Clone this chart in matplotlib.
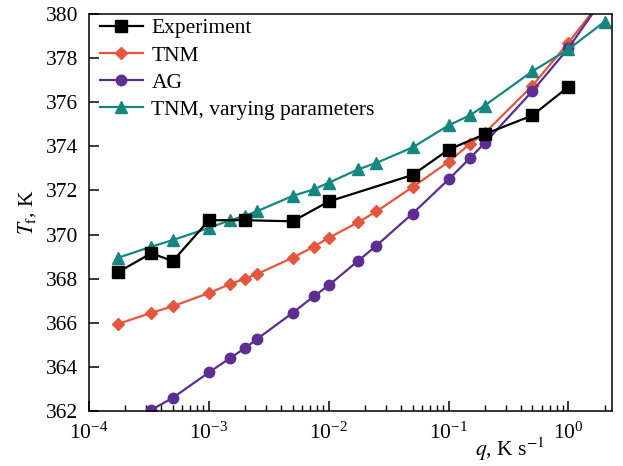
import matplotlib
matplotlib.use("Agg")
import matplotlib.pyplot as plt
from matplotlib.ticker import LogLocator, NullFormatter

# cooling rate q, K/s and fictive temperature Tf, K
q_exp = [1.75e-4, 3.3e-4, 5e-4, 1e-3, 2e-3, 5e-3, 1e-2, 5e-2, 1e-1, 2e-1, 5e-1, 1.0]
T_exp = [368.3, 369.15, 368.8, 370.65, 370.65, 370.6, 371.5, 372.7, 373.85, 374.55, 375.4, 376.7]

q_mod = [1.75e-4, 3.3e-4, 5e-4, 1e-3, 1.5e-3, 2e-3, 2.5e-3, 5e-3, 7.5e-3, 1e-2,
         1.75e-2, 2.5e-2, 5e-2, 1e-1, 1.5e-1, 2e-1, 5e-1, 1.0, 2.0]
T_tnm = [365.95, 366.45, 366.75, 367.35, 367.75, 368.0, 368.2, 368.95, 369.45, 369.85,
         370.55, 371.05, 372.15, 373.3, 374.1, 374.6, 376.75, 378.7, 380.8]
T_ag = [361.2, 362.05, 362.6, 363.75, 364.4, 364.85, 365.25, 366.45, 367.2, 367.7,
        368.8, 369.5, 370.95, 372.5, 373.45, 374.15, 376.5, 378.45, 380.8]
T_var = [368.95, 369.45, 369.75, 370.3, 370.65, 370.85, 371.05, 371.75, 372.05, 372.35,
         372.95, 373.25, 373.95, 374.95, 375.4, 375.85, 377.4, 378.4, 379.65]

plt.rcParams["font.family"] = ["Liberation Serif", "DejaVu Serif"]
plt.rcParams["mathtext.fontset"] = "stix"

fig = plt.figure(figsize=(6.23, 4.66), dpi=100)
ax = fig.add_axes([0.143, 0.118, 0.839, 0.852])

ax.plot(q_exp, T_exp, color="black", marker="s", ms=8, lw=1.6, label="Experiment", zorder=5)
ax.plot(q_mod, T_tnm, color="#E4573D", marker="D", ms=6.5, lw=1.6, label="TNM")
ax.plot(q_mod, T_ag, color="#5C2E91", marker="o", ms=7.5, lw=1.6, label="AG")
ax.plot(q_mod, T_var, color="#15877F", marker="^", ms=9, lw=1.6,
        label="TNM, varying parameters")

ax.set_xscale("log")
ax.set_xlim(1e-4, 2.3)
ax.set_ylim(362, 380)
ax.set_yticks(range(362, 381, 2))
ax.xaxis.set_major_locator(LogLocator(base=10, numticks=10))
ax.xaxis.set_minor_locator(LogLocator(base=10, subs=range(2, 10), numticks=20))
ax.xaxis.set_minor_formatter(NullFormatter())
ax.tick_params(which="both", direction="in", top=False, right=False, labelsize=15.5)
ax.tick_params(which="major", length=7, width=1.1, pad=8)
ax.tick_params(which="minor", length=4.5, width=1.0)
for s in ax.spines.values():
    s.set_linewidth(1.1)

ax.set_xlabel("$q$, K s$^{-1}$", fontsize=15.5)
ax.xaxis.set_label_coords(0.805, -0.062)
ax.set_ylabel(r"$T_\mathrm{f}$, K", fontsize=15.5)
ax.yaxis.set_label_coords(-0.097, 0.5)

ax.legend(loc="upper left", bbox_to_anchor=(0.012, 1.0), frameon=False, fontsize=15.5,
          handlelength=2.0, handletextpad=0.4, labelspacing=0.33,
          borderaxespad=0.15, borderpad=0.05)

fig.savefig("out.png", dpi=100)
